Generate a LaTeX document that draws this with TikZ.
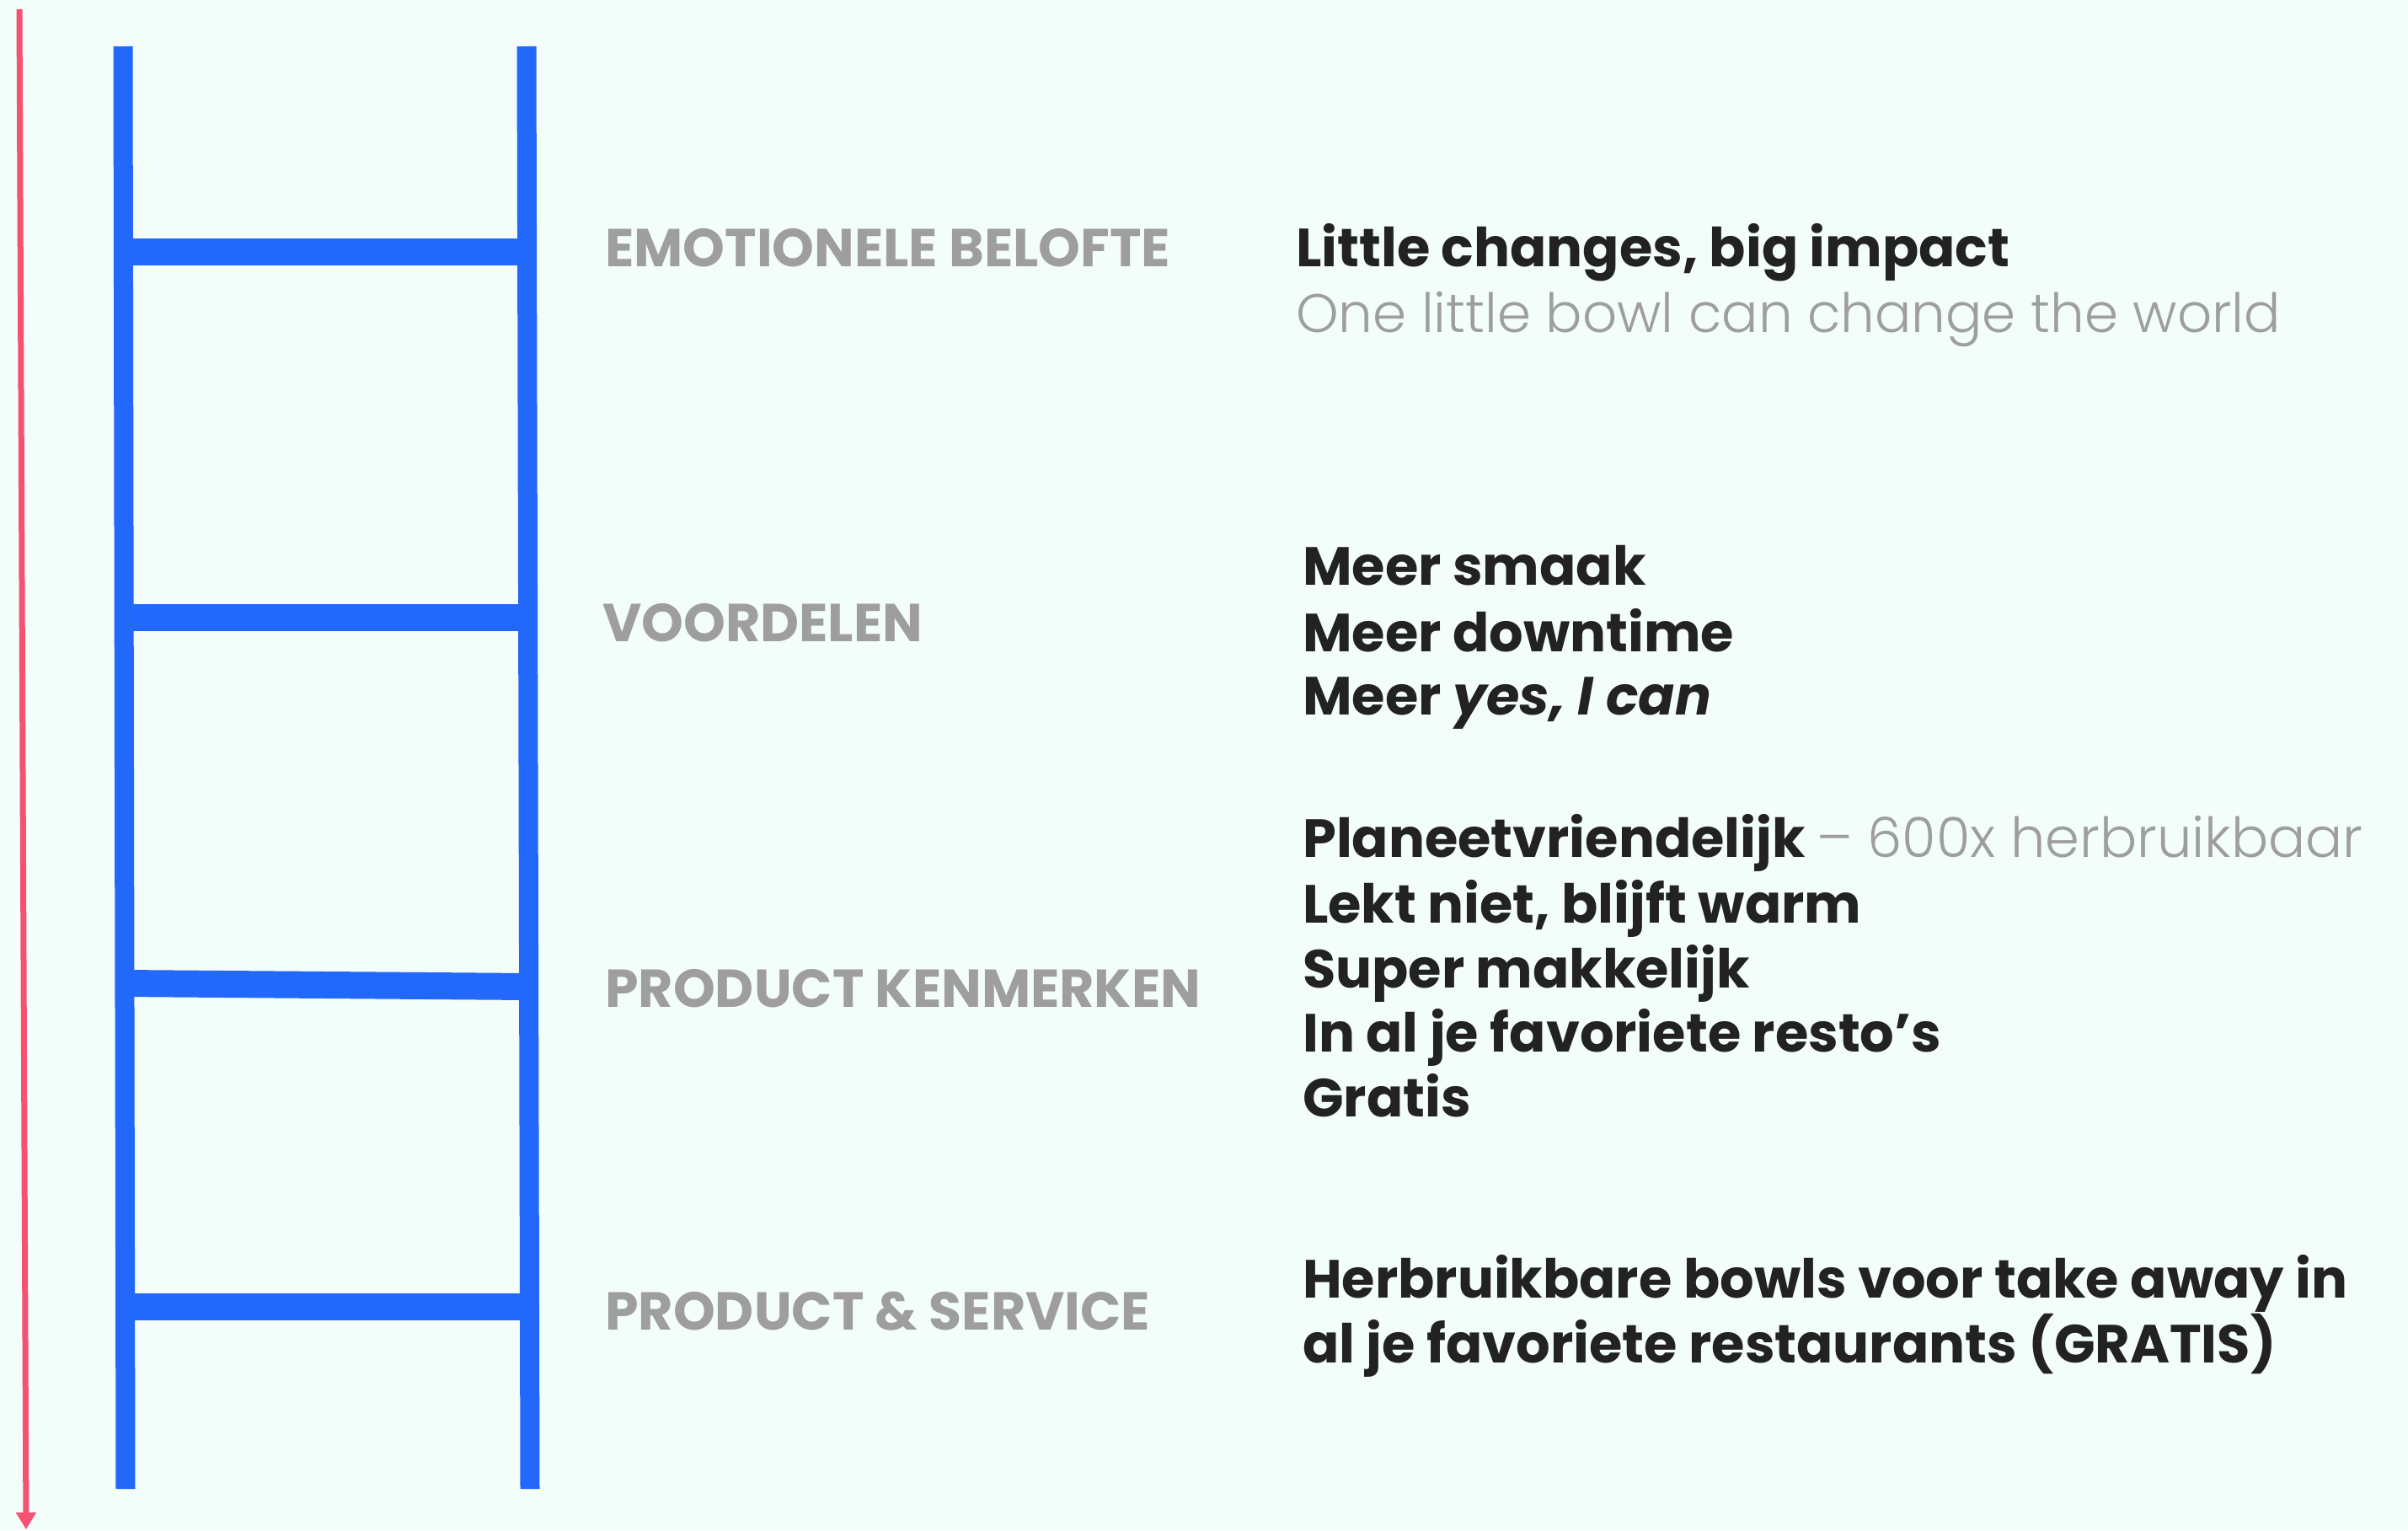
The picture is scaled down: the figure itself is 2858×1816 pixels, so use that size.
\documentclass[tikz,border=0pt]{standalone}
\usepackage{fontspec}
\setmainfont{Poppins}
\newfontfamily\poplight{Poppins}[UprightFont=* Light]
\usetikzlibrary{arrows.meta}
\definecolor{bgc}{HTML}{F3FDF9}
\definecolor{ladder}{HTML}{2269FB}
\definecolor{arrowc}{HTML}{F45270}
\definecolor{graytxt}{HTML}{9E9E9E}
\definecolor{darktxt}{HTML}{222222}
\tikzset{
  rail/.style={ladder, line width=23pt, line cap=butt},
  rung/.style={ladder, line width=32pt, line cap=butt},
  lvl/.style={anchor=base west, inner sep=0pt, text=graytxt, font=\fontsize{63.4}{63.4}\selectfont\bfseries},
  main/.style={anchor=base west, inner sep=0pt, text=darktxt, font=\fontsize{63.8}{63.8}\selectfont\bfseries},
  sub/.style={anchor=base west, inner sep=0pt, text=graytxt, font=\fontsize{64.3}{64.3}\selectfont\poplight},
}
\begin{document}
\begin{tikzpicture}[x=1pt,y=-1pt]
\fill[bgc] (0,0) rectangle (2858,1816);
\useasboundingbox (0,0) rectangle (2858,1816);
% arrow
\coordinate (atop) at (23,11);
\coordinate (abot) at (31,1815);
\draw[arrowc, line width=7pt, -{Triangle[length=20pt,width=23pt]}] (atop) -- (abot);
% ladder
\coordinate (lt) at (146,55);
\coordinate (lb) at (149,1767);
\coordinate (rt) at (625,55);
\coordinate (rb) at (629,1767);
\draw[rail] (lt) -- (lb);
\draw[rail] (rt) -- (rb);
\draw[rung] (147,299) -- (626,299);
\draw[rung] (147,733) -- (627,733);
\draw[rung] (148,1167) -- (628,1171);
\draw[rung] (148,1551) -- (628,1551);
% labels
\node[lvl] (l1) at (718,316) {EMOTIONELE BELOFTE};
\node[lvl] (l2) at (715,761) {VOORDELEN};
\node[lvl] (l3) at (718,1195) {PRODUCT KENMERKEN};
\node[lvl] (l4) at (718,1578) {PRODUCT \& SERVICE};
% texts
\node[main] (t1) at (1538,316) {Little changes, big impact};
\node[sub] (t1b) at (1538,394) {One little bowl can change the world};
\node[main] (t2a) at (1546,694) {Meer smaak};
\node[main] (t2b) at (1546,773) {Meer downtime};
\node[main] (t2c) at (1546,848) {Meer \textit{yes, I can}};
\node[main] (t3a) at (1546,1017) {Planeetvriendelijk {\mdseries\poplight\fontsize{65.5}{65.5}\selectfont\color{graytxt} – 600x herbruikbaar}};
\node[main] (t3b) at (1546,1095) {Lekt niet, blijft warm};
\node[main] (t3c) at (1546,1172) {Super makkelijk};
\node[main] (t3d) at (1546,1248) {In al je favoriete resto’s};
\node[main] (t3e) at (1546,1325) {Gratis};
\node[main] (t4a) at (1546,1540) {Herbruikbare bowls voor take away in};
\node[main] (t4b) at (1546,1617) {al je favoriete restaurants (GRATIS)};
\end{tikzpicture}
\end{document}
